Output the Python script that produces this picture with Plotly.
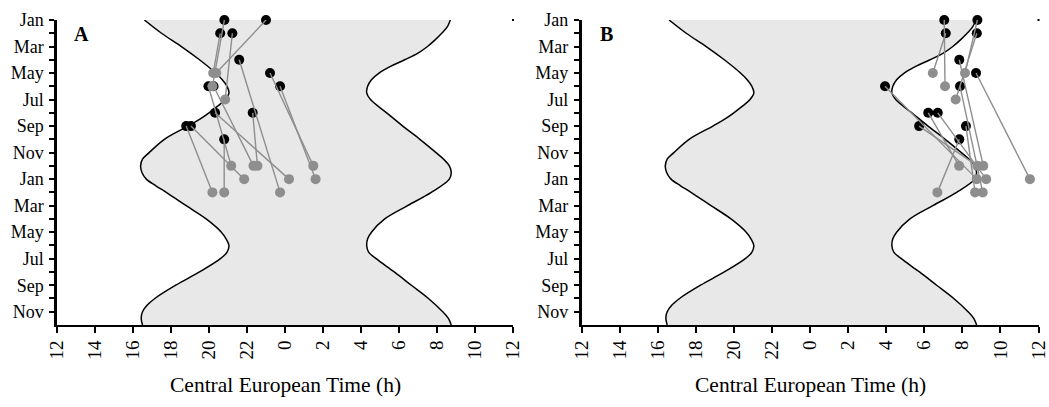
import plotly.graph_objects as go

# ---------------- data ----------------
month_tick_labels = ["Jan", "Mar", "May", "Jul", "Sep", "Nov",
                     "Jan", "Mar", "May", "Jul", "Sep", "Nov"]
hour_tick_labels = ["12", "14", "16", "18", "20", "22", "0", "2", "4", "6", "8", "10", "12"]

# sunset / sunrise curves (month index from January of year 1, clock hour CET)
sunset_month = [0, 1, 2, 3, 4, 4.5, 5, 5.5, 6, 6.5, 7, 7.5, 8, 9, 10, 10.5, 11, 11.5,
                12, 12.5, 13, 14, 15, 16, 16.5, 17, 17.5, 18, 19, 20, 21, 21.5, 22, 22.5, 23]
sunset_hour = [16.6, 17.5, 18.55, 19.5, 20.35, 20.7, 20.95, 21.05, 20.85, 20.45, 20.0, 19.5,
               18.9, 17.65, 16.85, 16.5, 16.4, 16.47,
               16.7, 17.2, 17.75, 18.8, 19.85, 20.65, 20.9, 21.05, 20.95, 20.6, 19.5, 18.25,
               17.15, 16.75, 16.5, 16.43, 16.5]

sunrise_month = [0, 0.5, 1, 1.5, 2, 2.5, 3, 3.5, 4, 4.5, 5, 5.5, 6, 7, 8, 9, 10, 10.5, 11, 11.5,
                 12, 13, 14, 15, 16, 16.5, 17, 17.5, 18, 19, 20, 21, 22, 22.5, 23]
sunrise_hour = [8.7, 8.55, 8.25, 7.9, 7.5, 7.0, 6.3, 5.55, 4.95, 4.55, 4.35, 4.3, 4.5, 5.35, 6.2,
                7.1, 7.95, 8.35, 8.65, 8.75,
                8.65, 7.7, 6.45, 5.25, 4.55, 4.35, 4.3, 4.4, 4.8, 5.75, 6.65, 7.55, 8.3, 8.6, 8.75]

# Panel A: start (black) and end (grey) of each track
a_start_month = [0, 0, 1, 1, 3, 4, 5, 5, 5, 7, 7, 8, 8, 9]
a_start_hour = [20.81, 23.0, 20.59, 21.23, 21.59, 23.21, 23.74, 19.97, 20.24, 22.3, 20.32, 18.8, 19.05, 20.8]
a_end_month = [5, 4, 4, 6, 13, 11, 12, 11, 11, 11, 12, 13, 12, 13]
a_end_hour = [20.18, 20.38, 20.22, 20.85, 23.74, 1.49, 1.61, 21.17, 22.34, 22.55, 0.21, 20.18, 21.85, 20.8]

# Panel B
b_start_month = [0, 1, 0, 1, 4, 3, 5, 5, 8, 7, 7, 8, 9]
b_start_hour = [7.05, 7.13, 8.79, 8.76, 8.72, 7.84, 7.88, 3.94, 5.73, 6.21, 6.71, 8.19, 7.84]
b_end_month = [5, 4, 4, 6, 12, 11, 13, 12, 11, 11, 12, 13, 13]
b_end_hour = [7.09, 6.45, 8.14, 7.65, 11.55, 9.1, 9.07, 8.76, 8.79, 7.83, 9.25, 8.67, 6.69]

# ---------------- helpers ----------------
def to_axis(h):
    return h + 24 if h < 12 else h

W, H = 1049, 407
TOP, BOT = 20, 82
FILL = "#e8e8e8"
GREY = "#8e8e8e"
FONT = "Liberation Serif, Times New Roman, serif"

fig = go.Figure()

panels = [
    ("x", "y", a_start_month, a_start_hour, a_end_month, a_end_hour),
    ("x2", "y2", b_start_month, b_start_hour, b_end_month, b_end_hour),
]

for xa, ya, sm, sh, em, eh in panels:
    sx = [to_axis(h) for h in sunset_hour]
    rx = [to_axis(h) for h in sunrise_hour]
    fig.add_trace(go.Scatter(x=sx, y=sunset_month, mode="lines",
                             line=dict(color="black", width=1.5, shape="spline", smoothing=1),
                             xaxis=xa, yaxis=ya, showlegend=False, hoverinfo="skip"))
    fig.add_trace(go.Scatter(x=rx, y=sunrise_month, mode="lines", fill="tonextx", fillcolor=FILL,
                             line=dict(color="black", width=1.5, shape="spline", smoothing=1),
                             xaxis=xa, yaxis=ya, showlegend=False, hoverinfo="skip"))
    fig.add_trace(go.Scatter(x=[to_axis(h) for h in sh], y=sm, mode="markers",
                             marker=dict(color="black", size=10), cliponaxis=False,
                             xaxis=xa, yaxis=ya, showlegend=False))
    lx, ly = [], []
    for m0, h0, m1, h1 in zip(sm, sh, em, eh):
        lx += [to_axis(h0), to_axis(h1), None]
        ly += [m0, m1, None]
    fig.add_trace(go.Scatter(x=lx, y=ly, mode="lines", line=dict(color=GREY, width=1.4),
                             cliponaxis=False, xaxis=xa, yaxis=ya, showlegend=False))
    fig.add_trace(go.Scatter(x=[to_axis(h) for h in eh], y=em, mode="markers",
                             marker=dict(color=GREY, size=10), cliponaxis=False,
                             xaxis=xa, yaxis=ya, showlegend=False))
    fig.add_trace(go.Scatter(x=[36], y=[0], mode="markers",
                             marker=dict(color="black", size=2, symbol="square"),
                             cliponaxis=False, xaxis=xa, yaxis=ya, showlegend=False))

xaxis_common = dict(range=[12, 36], tickvals=list(range(12, 37, 2)), ticktext=hour_tick_labels,
                    tickangle=-90, ticks="outside", ticklen=6, tickwidth=1.5, tickcolor="black",
                    showline=True, linecolor="black", linewidth=2, showgrid=False, zeroline=False,
                    automargin=False,
                    tickfont=dict(family=FONT, size=19, color="black"))
yaxis_common = dict(range=[23, 0], tickvals=list(range(0, 23)),
                    ticktext=[month_tick_labels[i // 2] if i % 2 == 0 else "" for i in range(23)],
                    ticks="outside", ticklen=5, tickwidth=1.5, tickcolor="black",
                    showline=True, linecolor="black", linewidth=2.5, showgrid=False, zeroline=False,
                    automargin=False,
                    tickfont=dict(family=FONT, size=18, color="black"), ticklabelstandoff=2)

ax_a = [57 / W, 513 / W]
ax_b = [581.5 / W, 1038.5 / W]


def px_to_paper(x, y):
    return x / W, (H - BOT - y) / (H - TOP - BOT)


anns = []
for text, x, y, size in [("<b>A</b>", 81, 34, 20), ("<b>B</b>", 606, 34, 20),
                         ("Central European Time (h)", 285, 385, 21.5),
                         ("Central European Time (h)", 810, 385, 21.5)]:
    px, py = px_to_paper(x, y)
    anns.append(dict(text=text, x=px, y=py, xref="paper", yref="paper", showarrow=False,
                     xanchor="center", yanchor="middle",
                     font=dict(family=FONT, size=size, color="black")))

fig.update_layout(
    width=W, height=H,
    margin=dict(l=0, r=0, t=TOP, b=BOT, autoexpand=False),
    paper_bgcolor="white", plot_bgcolor="white",
    xaxis=dict(xaxis_common, domain=ax_a, anchor="y"),
    yaxis=dict(yaxis_common, domain=[0, 1], anchor="x"),
    xaxis2=dict(xaxis_common, domain=ax_b, anchor="y2"),
    yaxis2=dict(yaxis_common, domain=[0, 1], anchor="x2"),
    annotations=anns,
)

fig.write_html("out.html", config={"displayModeBar": False},
               post_script="document.body.style.margin='0px';document.body.style.overflow='hidden';")
